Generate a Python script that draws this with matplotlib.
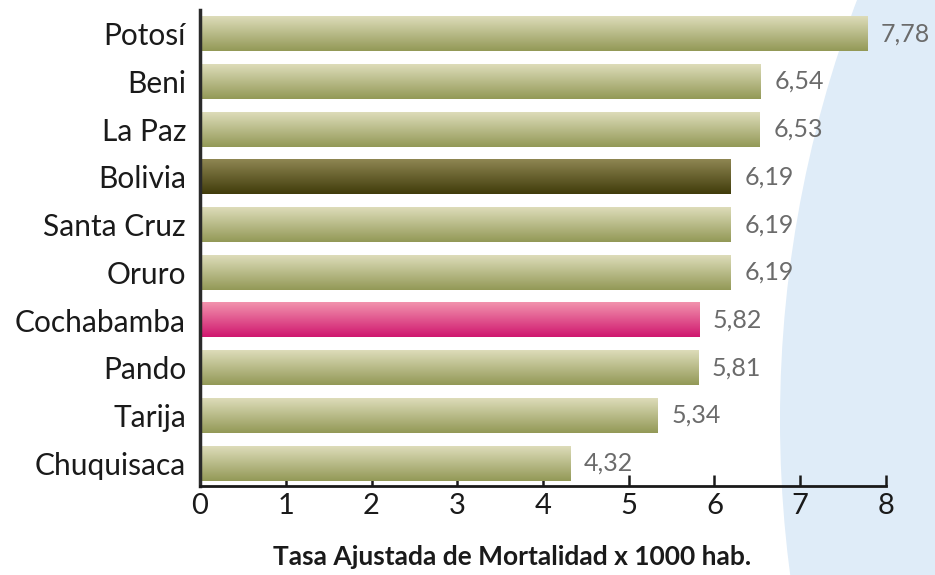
import numpy as np
import matplotlib
matplotlib.use("Agg")
import matplotlib.pyplot as plt
from matplotlib.colors import LinearSegmentedColormap
from matplotlib.patches import Circle

categories = ["Potosí", "Beni", "La Paz", "Bolivia", "Santa Cruz", "Oruro",
              "Cochabamba", "Pando", "Tarija", "Chuquisaca"]
values = [7.78, 6.54, 6.53, 6.19, 6.19, 6.19, 5.82, 5.81, 5.34, 4.32]
value_labels = ["7,78", "6,54", "6,53", "6,19", "6,19", "6,19", "5,82", "5,81", "5,34", "4,32"]
xticks = [0, 1, 2, 3, 4, 5, 6, 7, 8]
xlabel = "Tasa Ajustada de Mortalidad x 1000 hab."

grad_default = ("#dddcb9", "#939957")
grad_special = {"Bolivia": ("#8e8652", "#413c0b"),
                "Cochabamba": ("#f293ad", "#cf176f")}

plt.rcParams['font.family'] = ['Lato', 'DejaVu Sans']

fig = plt.figure(figsize=(9.35, 5.75), dpi=100)

# light blue background shape on the right
bg = fig.add_axes([0, 0, 1, 1], zorder=0)
bg.set_xlim(0, 935)
bg.set_ylim(575, 0)
bg.set_aspect('equal')
bg.axis('off')
R = 1184
bg.add_patch(Circle((780 + R, 420), R, facecolor="#dfecf8", edgecolor='none'))

ax = fig.add_axes([200 / 935, 1 - 486 / 575, 686 / 935, 476 / 575], zorder=1)
ax.patch.set_alpha(0)

h = 0.73
y = np.arange(len(categories))
grad = np.linspace(0, 1, 64).reshape(-1, 1)
for yi, cat, v, lab in zip(y, categories, values, value_labels):
    c_top, c_bot = grad_special.get(cat, grad_default)
    cmap = LinearSegmentedColormap.from_list(cat, [c_top, c_bot])
    ax.imshow(grad, cmap=cmap, aspect='auto',
              extent=(0, v, yi + h / 2, yi - h / 2), zorder=2,
              interpolation='bilinear')
    ax.text(v + 0.16, yi, lab, va='center', ha='left', fontsize=18,
            color="#6b6b6b", zorder=3)

ax.set_xlim(0, 8)
ax.set_ylim(len(categories) - 0.52, -0.5)
ax.set_yticks(y)
ax.set_yticklabels(categories, fontsize=21.5, color="#1a1a1a")
ax.set_xticks(xticks)
ax.set_xticklabels([str(t) for t in xticks], fontsize=21, color="#1a1a1a")
ax.tick_params(axis='y', length=0, pad=10)
ax.tick_params(axis='x', direction='in', length=8, width=1.8, pad=5, color="#1a1a1a")
for s in ['top', 'right']:
    ax.spines[s].set_visible(False)
ax.spines['left'].set_linewidth(2.5)
ax.spines['left'].set_color("#2a2a2a")
ax.spines['bottom'].set_linewidth(2)
ax.spines['bottom'].set_color("#1a1a1a")

fig.text(512 / 935, 1 - 557 / 575, xlabel, ha='center', va='center',
         fontsize=19, fontweight='bold', color="#1a1a1a")

fig.savefig("out.png", dpi=100)
